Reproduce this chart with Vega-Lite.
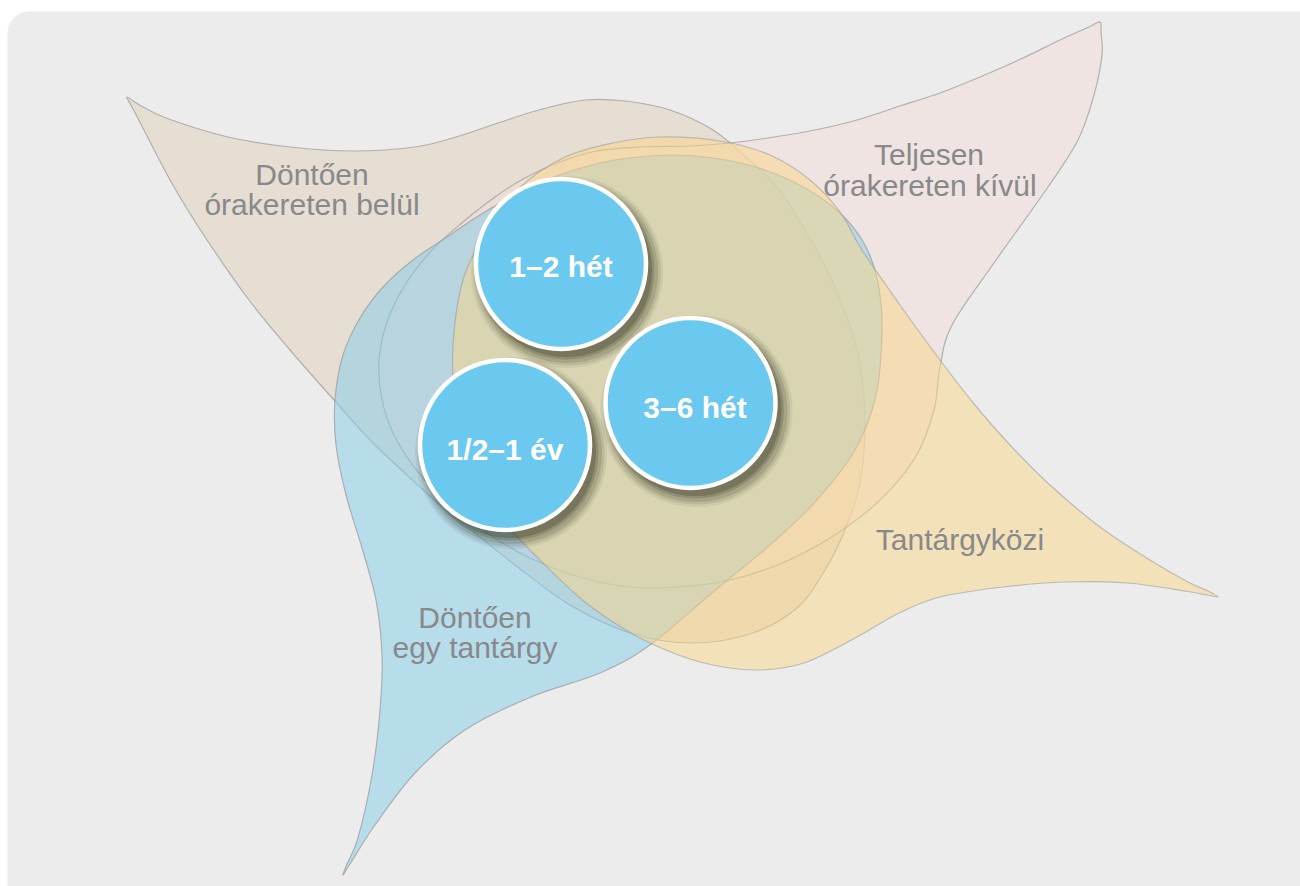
{
  "$schema": "https://vega.github.io/schema/vega-lite/v6.json",
  "width": 1300,
  "height": 886,
  "autosize": {"type": "none"},
  "padding": 0,
  "background": "#ffffff",
  "config": {"view": {"stroke": null}},
  "datasets": {
    "bg": [{"x": 7.5, "x2": 1325, "y": 11.5, "y2": 920}],
    "shapes": [
      {"s": "beige", "i": 1, "x": 127, "y": 97}, {"s": "beige", "i": 1.5, "x": 138, "y": 104}, {"s": "beige", "i": 2, "x": 166, "y": 118}, {"s": "beige", "i": 3, "x": 228, "y": 137}, {"s": "beige", "i": 4, "x": 290, "y": 147}, {"s": "beige", "i": 5, "x": 353, "y": 151}, {"s": "beige", "i": 6, "x": 415, "y": 147}, {"s": "beige", "i": 7, "x": 456, "y": 137}, {"s": "beige", "i": 8, "x": 498, "y": 123}, {"s": "beige", "i": 9, "x": 539, "y": 110}, {"s": "beige", "i": 10, "x": 585, "y": 100}, {"s": "beige", "i": 11, "x": 625, "y": 101}, {"s": "beige", "i": 12, "x": 670, "y": 110}, {"s": "beige", "i": 13, "x": 713, "y": 130}, {"s": "beige", "i": 14, "x": 747, "y": 158}, {"s": "beige", "i": 15, "x": 777, "y": 187}, {"s": "beige", "i": 16, "x": 805, "y": 230}, {"s": "beige", "i": 17, "x": 833, "y": 283}, {"s": "beige", "i": 18, "x": 857, "y": 350}, {"s": "beige", "i": 19, "x": 865, "y": 417}, {"s": "beige", "i": 20, "x": 860, "y": 483}, {"s": "beige", "i": 21, "x": 845, "y": 530}, {"s": "beige", "i": 22, "x": 825, "y": 570}, {"s": "beige", "i": 23, "x": 797, "y": 608}, {"s": "beige", "i": 24, "x": 750, "y": 634}, {"s": "beige", "i": 25, "x": 690, "y": 643}, {"s": "beige", "i": 26, "x": 630, "y": 633}, {"s": "beige", "i": 27, "x": 570, "y": 605}, {"s": "beige", "i": 28, "x": 515, "y": 565}, {"s": "beige", "i": 29, "x": 480, "y": 537}, {"s": "beige", "i": 30, "x": 453, "y": 517}, {"s": "beige", "i": 31, "x": 420, "y": 487}, {"s": "beige", "i": 32, "x": 373, "y": 443}, {"s": "beige", "i": 33, "x": 334, "y": 400}, {"s": "beige", "i": 34, "x": 290, "y": 350}, {"s": "beige", "i": 35, "x": 249, "y": 300}, {"s": "beige", "i": 36, "x": 207, "y": 240}, {"s": "beige", "i": 37, "x": 174, "y": 187}, {"s": "beige", "i": 38, "x": 146, "y": 134}, {"s": "beige", "i": 39, "x": 132, "y": 107},
      {"s": "pink", "i": 1, "x": 1100, "y": 22}, {"s": "pink", "i": 1.5, "x": 1089, "y": 27}, {"s": "pink", "i": 2, "x": 1060, "y": 40}, {"s": "pink", "i": 3, "x": 1023, "y": 58}, {"s": "pink", "i": 4, "x": 980, "y": 77}, {"s": "pink", "i": 5, "x": 940, "y": 93}, {"s": "pink", "i": 6, "x": 900, "y": 106}, {"s": "pink", "i": 7, "x": 857, "y": 120}, {"s": "pink", "i": 8, "x": 815, "y": 130}, {"s": "pink", "i": 9, "x": 774, "y": 137}, {"s": "pink", "i": 10, "x": 730, "y": 143}, {"s": "pink", "i": 11, "x": 690, "y": 146}, {"s": "pink", "i": 12, "x": 640, "y": 147}, {"s": "pink", "i": 13, "x": 597, "y": 151}, {"s": "pink", "i": 14, "x": 560, "y": 162}, {"s": "pink", "i": 15, "x": 525, "y": 178}, {"s": "pink", "i": 16, "x": 495, "y": 197}, {"s": "pink", "i": 17, "x": 463, "y": 222}, {"s": "pink", "i": 18, "x": 432, "y": 250}, {"s": "pink", "i": 19, "x": 405, "y": 285}, {"s": "pink", "i": 20, "x": 387, "y": 322}, {"s": "pink", "i": 21, "x": 379, "y": 360}, {"s": "pink", "i": 22, "x": 382, "y": 400}, {"s": "pink", "i": 23, "x": 395, "y": 437}, {"s": "pink", "i": 24, "x": 418, "y": 472}, {"s": "pink", "i": 25, "x": 450, "y": 505}, {"s": "pink", "i": 26, "x": 487, "y": 533}, {"s": "pink", "i": 27, "x": 530, "y": 558}, {"s": "pink", "i": 28, "x": 580, "y": 577}, {"s": "pink", "i": 29, "x": 630, "y": 587}, {"s": "pink", "i": 30, "x": 680, "y": 587}, {"s": "pink", "i": 31, "x": 730, "y": 580}, {"s": "pink", "i": 32, "x": 780, "y": 564}, {"s": "pink", "i": 33, "x": 830, "y": 538}, {"s": "pink", "i": 34, "x": 878, "y": 502}, {"s": "pink", "i": 35, "x": 915, "y": 458}, {"s": "pink", "i": 36, "x": 934, "y": 410}, {"s": "pink", "i": 37, "x": 940, "y": 367}, {"s": "pink", "i": 38, "x": 952, "y": 325}, {"s": "pink", "i": 39, "x": 994, "y": 263}, {"s": "pink", "i": 40, "x": 1048, "y": 187}, {"s": "pink", "i": 41, "x": 1078, "y": 140}, {"s": "pink", "i": 42, "x": 1094, "y": 95}, {"s": "pink", "i": 43, "x": 1102, "y": 55}, {"s": "pink", "i": 44, "x": 1101, "y": 33},
      {"s": "blue", "i": 1, "x": 343, "y": 875}, {"s": "blue", "i": 1.5, "x": 350, "y": 864}, {"s": "blue", "i": 2, "x": 375, "y": 825}, {"s": "blue", "i": 3, "x": 415, "y": 773}, {"s": "blue", "i": 4, "x": 465, "y": 730}, {"s": "blue", "i": 5, "x": 531, "y": 697}, {"s": "blue", "i": 6, "x": 600, "y": 673}, {"s": "blue", "i": 7, "x": 650, "y": 645}, {"s": "blue", "i": 8, "x": 713, "y": 592}, {"s": "blue", "i": 9, "x": 770, "y": 545}, {"s": "blue", "i": 10, "x": 815, "y": 502}, {"s": "blue", "i": 11, "x": 855, "y": 450}, {"s": "blue", "i": 12, "x": 876, "y": 395}, {"s": "blue", "i": 13, "x": 882, "y": 330}, {"s": "blue", "i": 14, "x": 878, "y": 283}, {"s": "blue", "i": 15, "x": 865, "y": 245}, {"s": "blue", "i": 16, "x": 840, "y": 213}, {"s": "blue", "i": 17, "x": 805, "y": 188}, {"s": "blue", "i": 18, "x": 765, "y": 170}, {"s": "blue", "i": 19, "x": 720, "y": 159}, {"s": "blue", "i": 20, "x": 670, "y": 155}, {"s": "blue", "i": 21, "x": 615, "y": 160}, {"s": "blue", "i": 22, "x": 565, "y": 173}, {"s": "blue", "i": 23, "x": 520, "y": 192}, {"s": "blue", "i": 24, "x": 480, "y": 215}, {"s": "blue", "i": 25, "x": 447, "y": 237}, {"s": "blue", "i": 26, "x": 413, "y": 260}, {"s": "blue", "i": 27, "x": 383, "y": 287}, {"s": "blue", "i": 28, "x": 360, "y": 318}, {"s": "blue", "i": 29, "x": 343, "y": 355}, {"s": "blue", "i": 30, "x": 335, "y": 400}, {"s": "blue", "i": 31, "x": 336, "y": 445}, {"s": "blue", "i": 32, "x": 346, "y": 495}, {"s": "blue", "i": 33, "x": 362, "y": 548}, {"s": "blue", "i": 34, "x": 376, "y": 600}, {"s": "blue", "i": 35, "x": 382, "y": 655}, {"s": "blue", "i": 36, "x": 380, "y": 710}, {"s": "blue", "i": 37, "x": 372, "y": 775}, {"s": "blue", "i": 38, "x": 358, "y": 838}, {"s": "blue", "i": 39, "x": 347, "y": 864},
      {"s": "yellow", "i": 1, "x": 1218, "y": 597}, {"s": "yellow", "i": 1.5, "x": 1207, "y": 595}, {"s": "yellow", "i": 2, "x": 1185, "y": 591}, {"s": "yellow", "i": 3, "x": 1127, "y": 583}, {"s": "yellow", "i": 4, "x": 1065, "y": 582}, {"s": "yellow", "i": 5, "x": 1003, "y": 587}, {"s": "yellow", "i": 6, "x": 940, "y": 597}, {"s": "yellow", "i": 7, "x": 899, "y": 613}, {"s": "yellow", "i": 8, "x": 857, "y": 637}, {"s": "yellow", "i": 9, "x": 804, "y": 663}, {"s": "yellow", "i": 10, "x": 754, "y": 670}, {"s": "yellow", "i": 11, "x": 700, "y": 662}, {"s": "yellow", "i": 12, "x": 650, "y": 643}, {"s": "yellow", "i": 13, "x": 613, "y": 622}, {"s": "yellow", "i": 14, "x": 580, "y": 598}, {"s": "yellow", "i": 15, "x": 547, "y": 567}, {"s": "yellow", "i": 16, "x": 513, "y": 532}, {"s": "yellow", "i": 17, "x": 485, "y": 495}, {"s": "yellow", "i": 18, "x": 465, "y": 450}, {"s": "yellow", "i": 19, "x": 455, "y": 400}, {"s": "yellow", "i": 20, "x": 453, "y": 345}, {"s": "yellow", "i": 21, "x": 463, "y": 280}, {"s": "yellow", "i": 22, "x": 487, "y": 230}, {"s": "yellow", "i": 23, "x": 517, "y": 190}, {"s": "yellow", "i": 24, "x": 563, "y": 158}, {"s": "yellow", "i": 25, "x": 613, "y": 143}, {"s": "yellow", "i": 26, "x": 660, "y": 137}, {"s": "yellow", "i": 27, "x": 720, "y": 141}, {"s": "yellow", "i": 28, "x": 770, "y": 155}, {"s": "yellow", "i": 29, "x": 810, "y": 180}, {"s": "yellow", "i": 30, "x": 840, "y": 212}, {"s": "yellow", "i": 31, "x": 862, "y": 250}, {"s": "yellow", "i": 32, "x": 900, "y": 305}, {"s": "yellow", "i": 33, "x": 940, "y": 360}, {"s": "yellow", "i": 34, "x": 975, "y": 405}, {"s": "yellow", "i": 35, "x": 1010, "y": 445}, {"s": "yellow", "i": 36, "x": 1050, "y": 485}, {"s": "yellow", "i": 37, "x": 1100, "y": 527}, {"s": "yellow", "i": 38, "x": 1150, "y": 560}, {"s": "yellow", "i": 39, "x": 1188, "y": 582}, {"s": "yellow", "i": 40, "x": 1208, "y": 591}
    ],
    "labels": [
      {"text": "Döntően", "x": 312, "y": 185},
      {"text": "órakereten belül", "x": 312, "y": 215},
      {"text": "Teljesen", "x": 929, "y": 165},
      {"text": "órakereten kívül", "x": 930, "y": 196},
      {"text": "Tantárgyközi", "x": 960, "y": 550},
      {"text": "Döntően", "x": 475, "y": 628},
      {"text": "egy tantárgy", "x": 475, "y": 658}
    ],
    "circles": [
      {"label": "1–2 hét", "x": 561, "y": 264, "tx": 561, "ty": 277},
      {"label": "3–6 hét", "x": 690.5, "y": 403, "tx": 695, "ty": 418},
      {"label": "1/2–1 év", "x": 505, "y": 445, "tx": 505, "ty": 460}
    ]
  },
  "encoding": {
    "x": {"field": "x", "type": "quantitative", "scale": {"domain": [0, 1300], "nice": false, "zero": false}, "axis": null},
    "y": {"field": "y", "type": "quantitative", "scale": {"domain": [0, 886], "nice": false, "zero": false, "reverse": true}, "axis": null}
  },
  "layer": [
    {
      "data": {"name": "bg"},
      "mark": {"type": "rect", "fill": "#ebeceb", "cornerRadius": 22},
      "encoding": {"x2": {"field": "x2"}, "y2": {"field": "y2"}}
    },
    {
      "data": {"name": "shapes"},
      "transform": [{"filter": "datum.s === 'beige'"}],
      "mark": {"type": "line", "interpolate": "cardinal-closed", "fill": "#e1d0b9", "fillOpacity": 0.5, "stroke": "#9d9d9d", "strokeWidth": 1.2, "strokeOpacity": 0.75},
      "encoding": {"order": {"field": "i", "type": "quantitative"}}
    },
    {
      "data": {"name": "shapes"},
      "transform": [{"filter": "datum.s === 'pink'"}],
      "mark": {"type": "line", "interpolate": "cardinal-closed", "fill": "#f3dcd7", "fillOpacity": 0.5, "stroke": "#9d9d9d", "strokeWidth": 1.2, "strokeOpacity": 0.75},
      "encoding": {"order": {"field": "i", "type": "quantitative"}}
    },
    {
      "data": {"name": "shapes"},
      "transform": [{"filter": "datum.s === 'blue'"}],
      "mark": {"type": "line", "interpolate": "cardinal-closed", "fill": "#83cce9", "fillOpacity": 0.5, "stroke": "#9d9d9d", "strokeWidth": 1.2, "strokeOpacity": 0.75},
      "encoding": {"order": {"field": "i", "type": "quantitative"}}
    },
    {
      "data": {"name": "shapes"},
      "transform": [{"filter": "datum.s === 'yellow'"}],
      "mark": {"type": "line", "interpolate": "cardinal-closed", "fill": "#f9d687", "fillOpacity": 0.5, "stroke": "#9d9d9d", "strokeWidth": 1.2, "strokeOpacity": 0.6},
      "encoding": {"order": {"field": "i", "type": "quantitative"}}
    },
    {
      "data": {"name": "labels"},
      "mark": {"type": "text", "font": "Liberation Sans", "fontSize": 30, "fill": "#88898b", "align": "center", "baseline": "alphabetic"},
      "encoding": {"text": {"field": "text"}}
    },
    {
      "data": {"name": "circles"},
      "mark": {"type": "point", "shape": "circle", "filled": true, "fill": "#2a2a18", "fillOpacity": 0.07, "strokeWidth": 0, "size": 36900, "xOffset": 6, "yOffset": 8},
      "encoding": {}
    },
    {
      "data": {"name": "circles"},
      "mark": {"type": "point", "shape": "circle", "filled": true, "fill": "#2a2a18", "fillOpacity": 0.1, "strokeWidth": 0, "size": 35000, "xOffset": 6, "yOffset": 8},
      "encoding": {}
    },
    {
      "data": {"name": "circles"},
      "mark": {"type": "point", "shape": "circle", "filled": true, "fill": "#2a2a18", "fillOpacity": 0.14, "strokeWidth": 0, "size": 33100, "xOffset": 6, "yOffset": 8},
      "encoding": {}
    },
    {
      "data": {"name": "circles"},
      "mark": {"type": "point", "shape": "circle", "filled": true, "fill": "#2a2a18", "fillOpacity": 0.18, "strokeWidth": 0, "size": 31300, "xOffset": 5, "yOffset": 7},
      "encoding": {}
    },
    {
      "data": {"name": "circles"},
      "mark": {"type": "point", "shape": "circle", "filled": true, "fill": "#2a2a18", "fillOpacity": 0.24, "strokeWidth": 0, "size": 29600, "xOffset": 5, "yOffset": 7},
      "encoding": {}
    },
    {
      "data": {"name": "circles"},
      "mark": {"type": "point", "shape": "circle", "filled": true, "fill": "#6bc8ee", "fillOpacity": 1, "stroke": "#ffffff", "strokeWidth": 4.5, "strokeOpacity": 1, "size": 28900, "opacity": 1},
      "encoding": {}
    },
    {
      "data": {"name": "circles"},
      "mark": {"type": "text", "font": "Liberation Sans", "fontWeight": "bold", "fontSize": 30, "fill": "#ffffff", "align": "center", "baseline": "alphabetic"},
      "encoding": {
        "x": {"field": "tx", "type": "quantitative"},
        "y": {"field": "ty", "type": "quantitative"},
        "text": {"field": "label"}
      }
    }
  ]
}
